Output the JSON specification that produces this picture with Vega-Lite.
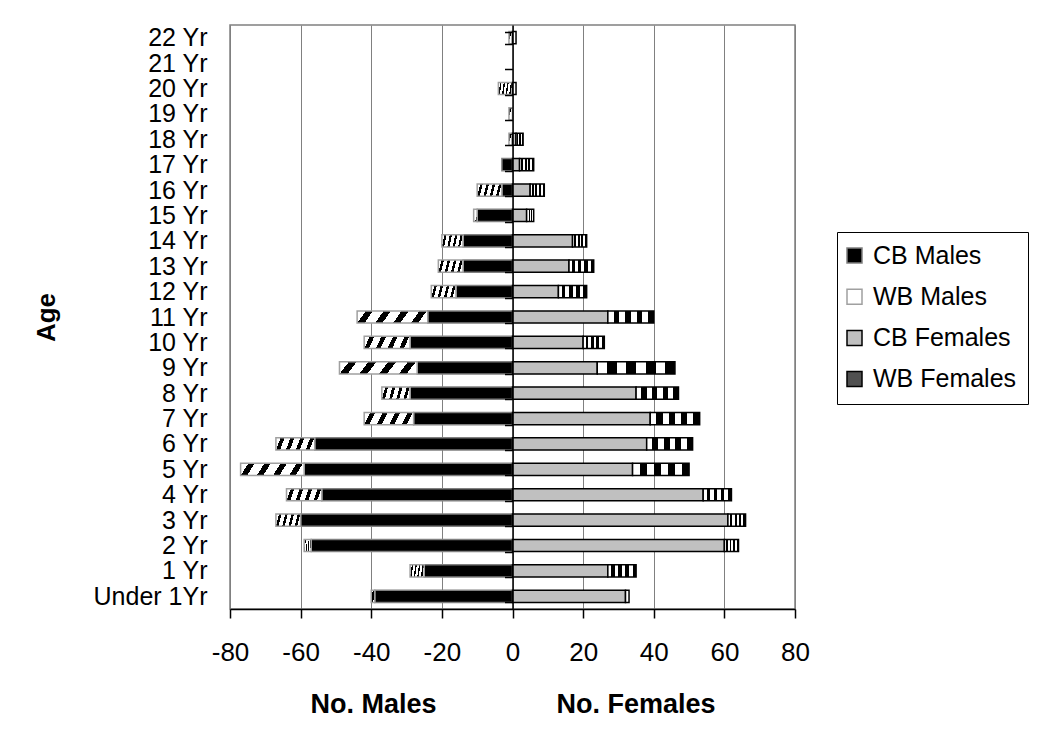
{
  "$schema": "https://vega.github.io/schema/vega-lite/v6.json",
  "width": 565,
  "height": 584,
  "autosize": {"type": "none"},
  "padding": {"left": 230, "top": 25, "right": 244, "bottom": 136},
  "background": "white",
  "config": {
    "font": "Liberation Sans",
    "view": {"stroke": "#808080", "strokeWidth": 1.5}
  },
  "data": {
    "values": [
      {"age": "22 Yr", "CB Males": 0, "WB Males": -1, "CB Females": 0, "WB Females": 1},
      {"age": "21 Yr", "CB Males": 0, "WB Males": 0, "CB Females": 0, "WB Females": 0},
      {"age": "20 Yr", "CB Males": 0, "WB Males": -4, "CB Females": 0, "WB Females": 1},
      {"age": "19 Yr", "CB Males": 0, "WB Males": -1, "CB Females": 0, "WB Females": 0},
      {"age": "18 Yr", "CB Males": 0, "WB Males": -1, "CB Females": 1, "WB Females": 2},
      {"age": "17 Yr", "CB Males": -3, "WB Males": 0, "CB Females": 2, "WB Females": 4},
      {"age": "16 Yr", "CB Males": -3, "WB Males": -7, "CB Females": 5, "WB Females": 4},
      {"age": "15 Yr", "CB Males": -10, "WB Males": -1, "CB Females": 4, "WB Females": 2},
      {"age": "14 Yr", "CB Males": -14, "WB Males": -6, "CB Females": 17, "WB Females": 4},
      {"age": "13 Yr", "CB Males": -14, "WB Males": -7, "CB Females": 16, "WB Females": 7},
      {"age": "12 Yr", "CB Males": -16, "WB Males": -7, "CB Females": 13, "WB Females": 8},
      {"age": "11 Yr", "CB Males": -24, "WB Males": -20, "CB Females": 27, "WB Females": 13},
      {"age": "10 Yr", "CB Males": -29, "WB Males": -13, "CB Females": 20, "WB Females": 6},
      {"age": "9 Yr", "CB Males": -27, "WB Males": -22, "CB Females": 24, "WB Females": 22},
      {"age": "8 Yr", "CB Males": -29, "WB Males": -8, "CB Females": 35, "WB Females": 12},
      {"age": "7 Yr", "CB Males": -28, "WB Males": -14, "CB Females": 39, "WB Females": 14},
      {"age": "6 Yr", "CB Males": -56, "WB Males": -11, "CB Females": 38, "WB Females": 13},
      {"age": "5 Yr", "CB Males": -59, "WB Males": -18, "CB Females": 34, "WB Females": 16},
      {"age": "4 Yr", "CB Males": -54, "WB Males": -10, "CB Females": 54, "WB Females": 8},
      {"age": "3 Yr", "CB Males": -60, "WB Males": -7, "CB Females": 61, "WB Females": 5},
      {"age": "2 Yr", "CB Males": -57, "WB Males": -2, "CB Females": 60, "WB Females": 4},
      {"age": "1 Yr", "CB Males": -25, "WB Males": -4, "CB Females": 27, "WB Females": 8},
      {"age": "Under 1Yr", "CB Males": -39, "WB Males": -1, "CB Females": 32, "WB Females": 1}
    ]
  },
  "transform": [
    {"fold": ["CB Males", "WB Males", "CB Females", "WB Females"], "as": ["series", "count"]},
    {"filter": "datum.count != 0"}
  ],
  "mark": {"type": "bar", "strokeWidth": 1.5},
  "encoding": {
    "y": {
      "field": "age",
      "type": "nominal",
      "scale": {
        "domain": ["22 Yr", "21 Yr", "20 Yr", "19 Yr", "18 Yr", "17 Yr", "16 Yr", "15 Yr", "14 Yr", "13 Yr", "12 Yr", "11 Yr", "10 Yr", "9 Yr", "8 Yr", "7 Yr", "6 Yr", "5 Yr", "4 Yr", "3 Yr", "2 Yr", "1 Yr", "Under 1Yr"],
        "paddingInner": 0.52,
        "paddingOuter": 0.26
      },
      "axis": {
        "orient": "left",
        "offset": -282.5,
        "title": "Age",
        "titleFont": "Liberation Sans",
        "titleFontSize": 26,
        "titleFontWeight": "bold",
        "titleColor": "black",
        "titleX": -466.5,
        "titleBaseline": "middle",
        "labelFont": "Liberation Sans",
        "labelFontSize": 25,
        "labelColor": "black",
        "labelPadding": 297.5,
        "labelOverlap": false,
        "tickSize": 8,
        "tickColor": "black",
        "tickWidth": 1.5,
        "tickBand": "extent",
        "domainColor": "black",
        "domainWidth": 1.5,
        "grid": false,
        "zindex": 1
      }
    },
    "x": {
      "field": "count",
      "type": "quantitative",
      "stack": "zero",
      "scale": {"domain": [-80, 80], "nice": false},
      "axis": {
        "values": [-80, -60, -40, -20, 0, 20, 40, 60, 80],
        "labelExpr": "'' + datum.value",
        "title": "No. Males\u00a0\u00a0\u00a0\u00a0\u00a0\u00a0\u00a0\u00a0\u00a0\u00a0\u00a0\u00a0\u00a0\u00a0\u00a0\u00a0No. Females",
        "titleFont": "Liberation Sans",
        "titleFontSize": 27,
        "titleFontWeight": "bold",
        "titleColor": "black",
        "titlePadding": 26,
        "labelFont": "Liberation Sans",
        "labelFontSize": 26,
        "labelColor": "black",
        "labelPadding": 21,
        "labelFlush": false,
        "tickSize": 9,
        "tickColor": "black",
        "tickWidth": 1.5,
        "domainColor": "black",
        "domainWidth": 1.5,
        "grid": true,
        "gridColor": "#808080",
        "gridWidth": 1
      }
    },
    "fill": {
      "field": "series",
      "type": "nominal",
      "scale": {
        "domain": ["CB Males", "WB Males", "CB Females", "WB Females"],
        "range": ["#000000", "#ffffff", "#c0c0c0", "#505050"]
      },
      "condition": [
        {
          "test": "datum.series === 'WB Males'",
          "value": {
            "gradient": "linear", "x1": 0, "y1": 0, "x2": 1, "y2": 0.12,
            "stops": [
              {"offset": 0, "color": "#ffffff"}, {"offset": 0.12, "color": "#ffffff"},
              {"offset": 0.12, "color": "#000000"}, {"offset": 0.22, "color": "#000000"},
              {"offset": 0.22, "color": "#ffffff"}, {"offset": 0.37, "color": "#ffffff"},
              {"offset": 0.37, "color": "#000000"}, {"offset": 0.47, "color": "#000000"},
              {"offset": 0.47, "color": "#ffffff"}, {"offset": 0.62, "color": "#ffffff"},
              {"offset": 0.62, "color": "#000000"}, {"offset": 0.72, "color": "#000000"},
              {"offset": 0.72, "color": "#ffffff"}, {"offset": 0.87, "color": "#ffffff"},
              {"offset": 0.87, "color": "#000000"}, {"offset": 0.97, "color": "#000000"},
              {"offset": 0.97, "color": "#ffffff"}, {"offset": 1, "color": "#ffffff"}
            ]
          }
        },
        {
          "test": "datum.series === 'WB Females'",
          "value": {
            "gradient": "linear", "x1": 0, "y1": 0, "x2": 1, "y2": 0,
            "stops": [
              {"offset": 0, "color": "#ffffff"}, {"offset": 0.125, "color": "#ffffff"},
              {"offset": 0.125, "color": "#000000"}, {"offset": 0.25, "color": "#000000"},
              {"offset": 0.25, "color": "#ffffff"}, {"offset": 0.375, "color": "#ffffff"},
              {"offset": 0.375, "color": "#000000"}, {"offset": 0.5, "color": "#000000"},
              {"offset": 0.5, "color": "#ffffff"}, {"offset": 0.625, "color": "#ffffff"},
              {"offset": 0.625, "color": "#000000"}, {"offset": 0.75, "color": "#000000"},
              {"offset": 0.75, "color": "#ffffff"}, {"offset": 0.875, "color": "#ffffff"},
              {"offset": 0.875, "color": "#000000"}, {"offset": 1, "color": "#000000"}
            ]
          }
        }
      ],
      "legend": {
        "title": null,
        "orient": "none",
        "legendX": 607,
        "legendY": 207,
        "direction": "vertical",
        "strokeColor": "black",
        "fillColor": "white",
        "padding": 11,
        "symbolType": "square",
        "symbolSize": 225,
        "symbolStrokeWidth": 1.5,
        "symbolOffset": -6,
        "labelFont": "Liberation Sans",
        "labelFontSize": 25,
        "labelColor": "black",
        "labelOffset": 6,
        "rowPadding": 15.2,
        "labelLimit": 300
      }
    },
    "stroke": {
      "field": "series",
      "type": "nominal",
      "scale": {
        "domain": ["CB Males", "WB Males", "CB Females", "WB Females"],
        "range": ["#808080", "#a0a0a0", "#000000", "#000000"]
      }
    },
    "order": {"field": "series", "sort": "ascending"}
  }
}
